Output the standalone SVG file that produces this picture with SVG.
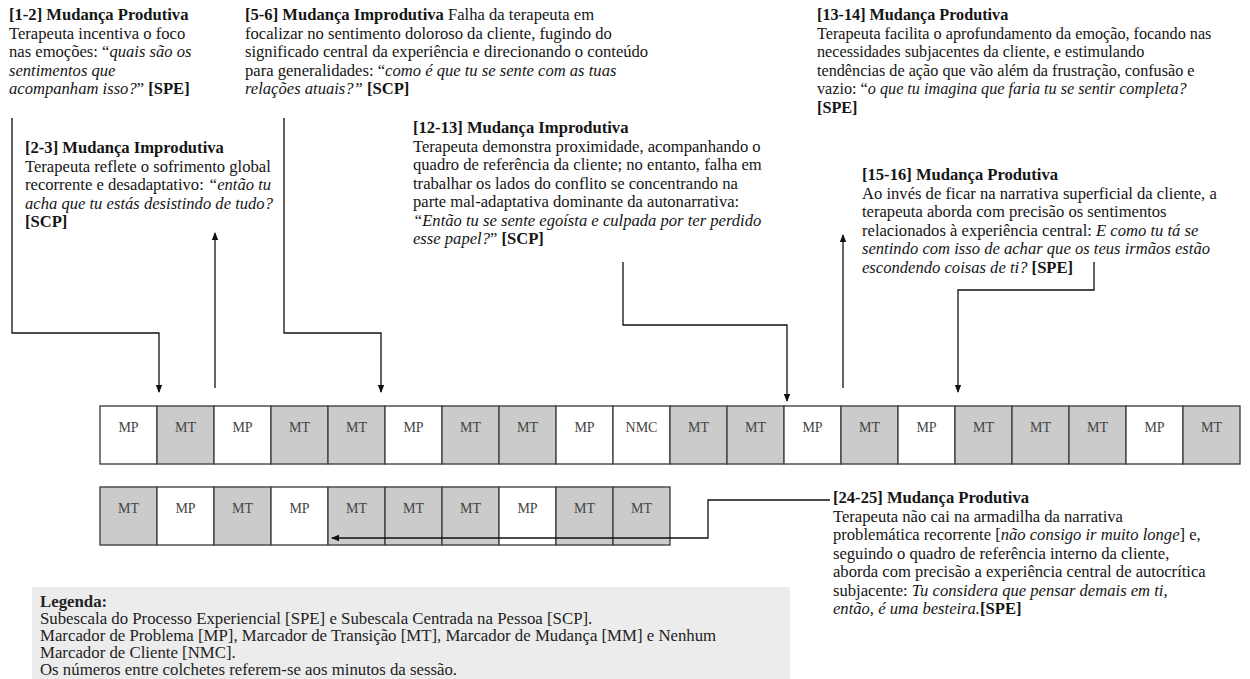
<svg xmlns="http://www.w3.org/2000/svg" width="1250" height="679" viewBox="0 0 1250 679">
<defs>
<marker id="ah" markerWidth="8" markerHeight="8" refX="7" refY="4" orient="auto" markerUnits="userSpaceOnUse">
<path d="M0,0.8 L8,4 L0,7.2 Z" fill="#111"/>
</marker>
<style>
text{font-family:"Liberation Serif","Times New Roman",serif;fill:#151515;}
.t{font-size:16.6px;}
.t2{font-size:16.2px;}
.b{font-weight:bold;}
.i{font-style:italic;}
.cell{stroke:#444;stroke-width:1.4;}
.w{fill:#fff;}
.g{fill:#cbcbcb;}
.cl{font-size:14px;fill:#444;text-anchor:middle;}
.con{fill:none;stroke:#111;stroke-width:1.3;}
.lg{font-size:16.8px;fill:#222;}
</style>
</defs>
<rect width="1250" height="679" fill="#fff"/>

<g id="note-1-2" class="t">
<text x="9" y="20"><tspan class="b">[1-2] Mudança Produtiva</tspan></text>
<text x="9" y="38.5">Terapeuta incentiva o foco</text>
<text x="9" y="57">nas emoções: “<tspan class="i">quais são os</tspan></text>
<text x="9" y="75.5"><tspan class="i">sentimentos que</tspan></text>
<text x="9" y="94"><tspan class="i">acompanham isso?</tspan>” <tspan class="b">[SPE]</tspan></text>
</g>

<g id="note-5-6" class="t">
<text x="245" y="20"><tspan class="b">[5-6] Mudança Improdutiva</tspan> Falha da terapeuta em</text>
<text x="245" y="38.5">focalizar no sentimento doloroso da cliente, fugindo do</text>
<text x="245" y="57">significado central da experiência e direcionando o conteúdo</text>
<text x="245" y="75.5">para generalidades: “<tspan class="i">como é que tu se sente com as tuas</tspan></text>
<text x="245" y="94"><tspan class="i">relações atuais?”</tspan> <tspan class="b">[SCP]</tspan></text>
</g>

<g id="note-13-14" class="t2">
<text x="817" y="20"><tspan class="b">[13-14] Mudança Produtiva</tspan></text>
<text x="817" y="38.5">Terapeuta facilita o aprofundamento da emoção, focando nas</text>
<text x="817" y="57">necessidades subjacentes da cliente, e estimulando</text>
<text x="817" y="75.5">tendências de ação que vão além da frustração, confusão e</text>
<text x="817" y="94">vazio: “<tspan class="i">o que tu imagina que faria tu se sentir completa?</tspan></text>
<text x="817" y="112.5"><tspan class="b">[SPE]</tspan></text>
</g>

<g id="note-2-3" class="t">
<text x="25" y="153"><tspan class="b">[2-3] Mudança Improdutiva</tspan></text>
<text x="25" y="171.5">Terapeuta reflete o sofrimento global</text>
<text x="25" y="190">recorrente e desadaptativo: <tspan class="i">“então tu</tspan></text>
<text x="25" y="208.5"><tspan class="i">acha que tu estás desistindo de tudo?</tspan></text>
<text x="25" y="227"><tspan class="b">[SCP]</tspan></text>
</g>

<g id="note-12-13" class="t">
<text x="413" y="133"><tspan class="b">[12-13] Mudança Improdutiva</tspan></text>
<text x="413" y="151.5">Terapeuta demonstra proximidade, acompanhando o</text>
<text x="413" y="170">quadro de referência da cliente; no entanto, falha em</text>
<text x="413" y="188.5">trabalhar os lados do conflito se concentrando na</text>
<text x="413" y="207">parte mal-adaptativa dominante da autonarrativa:</text>
<text x="413" y="225.5"><tspan class="i">“Então tu se sente egoísta e culpada por ter perdido</tspan></text>
<text x="413" y="244"><tspan class="i">esse papel?</tspan>” <tspan class="b">[SCP]</tspan></text>
</g>

<g id="note-15-16" class="t">
<text x="862" y="180"><tspan class="b">[15-16] Mudança Produtiva</tspan></text>
<text x="862" y="198.5">Ao invés de ficar na narrativa superficial da cliente, a</text>
<text x="862" y="217">terapeuta aborda com precisão os sentimentos</text>
<text x="862" y="235.5">relacionados à experiência central: <tspan class="i">E como tu tá se</tspan></text>
<text x="862" y="254"><tspan class="i">sentindo com isso de achar que os teus irmãos estão</tspan></text>
<text x="862" y="272.5"><tspan class="i">escondendo coisas de ti?</tspan> <tspan class="b">[SPE]</tspan></text>
</g>

<g id="note-24-25" class="t">
<text x="833" y="503"><tspan class="b">[24-25] Mudança Produtiva</tspan></text>
<text x="833" y="521.5">Terapeuta não cai na armadilha da narrativa</text>
<text x="833" y="540">problemática recorrente [<tspan class="i">não consigo ir muito longe</tspan>] e,</text>
<text x="833" y="558.5">seguindo o quadro de referência interno da cliente,</text>
<text x="833" y="577">aborda com precisão a experiência central de autocrítica</text>
<text x="833" y="595.5">subjacente:  <tspan class="i">Tu considera que pensar demais em ti,</tspan></text>
<text x="833" y="614"><tspan class="i">então, é uma besteira.</tspan><tspan class="b">[SPE]</tspan></text>
</g>

<g id="row-1">
<rect class="cell w" x="100" y="406" width="57" height="58"/>
<rect class="cell g" x="157" y="406" width="57" height="58"/>
<rect class="cell w" x="214" y="406" width="57" height="58"/>
<rect class="cell g" x="271" y="406" width="57" height="58"/>
<rect class="cell g" x="328" y="406" width="57" height="58"/>
<rect class="cell w" x="385" y="406" width="57" height="58"/>
<rect class="cell g" x="442" y="406" width="57" height="58"/>
<rect class="cell g" x="499" y="406" width="57" height="58"/>
<rect class="cell w" x="556" y="406" width="57" height="58"/>
<rect class="cell w" x="613" y="406" width="57" height="58"/>
<rect class="cell g" x="670" y="406" width="57" height="58"/>
<rect class="cell g" x="727" y="406" width="57" height="58"/>
<rect class="cell w" x="784" y="406" width="57" height="58"/>
<rect class="cell g" x="841" y="406" width="57" height="58"/>
<rect class="cell w" x="898" y="406" width="57" height="58"/>
<rect class="cell g" x="955" y="406" width="57" height="58"/>
<rect class="cell g" x="1012" y="406" width="57" height="58"/>
<rect class="cell g" x="1069" y="406" width="57" height="58"/>
<rect class="cell w" x="1126" y="406" width="57" height="58"/>
<rect class="cell g" x="1183" y="406" width="57" height="58"/>
<text class="cl" x="128.5" y="432">MP</text>
<text class="cl" x="185.5" y="432">MT</text>
<text class="cl" x="242.5" y="432">MP</text>
<text class="cl" x="299.5" y="432">MT</text>
<text class="cl" x="356.5" y="432">MT</text>
<text class="cl" x="413.5" y="432">MP</text>
<text class="cl" x="470.5" y="432">MT</text>
<text class="cl" x="527.5" y="432">MT</text>
<text class="cl" x="584.5" y="432">MP</text>
<text class="cl" x="641.5" y="432">NMC</text>
<text class="cl" x="698.5" y="432">MT</text>
<text class="cl" x="755.5" y="432">MT</text>
<text class="cl" x="812.5" y="432">MP</text>
<text class="cl" x="869.5" y="432">MT</text>
<text class="cl" x="926.5" y="432">MP</text>
<text class="cl" x="983.5" y="432">MT</text>
<text class="cl" x="1040.5" y="432">MT</text>
<text class="cl" x="1097.5" y="432">MT</text>
<text class="cl" x="1154.5" y="432">MP</text>
<text class="cl" x="1211.5" y="432">MT</text>
</g>

<g id="row-2">
<rect class="cell g" x="100" y="487" width="57" height="58"/>
<rect class="cell w" x="157" y="487" width="57" height="58"/>
<rect class="cell g" x="214" y="487" width="57" height="58"/>
<rect class="cell w" x="271" y="487" width="57" height="58"/>
<rect class="cell g" x="328" y="487" width="57" height="58"/>
<rect class="cell g" x="385" y="487" width="57" height="58"/>
<rect class="cell g" x="442" y="487" width="57" height="58"/>
<rect class="cell w" x="499" y="487" width="57" height="58"/>
<rect class="cell g" x="556" y="487" width="57" height="58"/>
<rect class="cell g" x="613" y="487" width="57" height="58"/>
<text class="cl" x="128.5" y="513">MT</text>
<text class="cl" x="185.5" y="513">MP</text>
<text class="cl" x="242.5" y="513">MT</text>
<text class="cl" x="299.5" y="513">MP</text>
<text class="cl" x="356.5" y="513">MT</text>
<text class="cl" x="413.5" y="513">MT</text>
<text class="cl" x="470.5" y="513">MT</text>
<text class="cl" x="527.5" y="513">MP</text>
<text class="cl" x="584.5" y="513">MT</text>
<text class="cl" x="641.5" y="513">MT</text>
</g>

<g id="legend">
<rect x="32" y="587" width="758" height="92" fill="#ececec"/>
<text class="lg b" x="40" y="607">Legenda:</text>
<text class="lg" x="40" y="624">Subescala do Processo Experiencial [SPE] e Subescala Centrada na Pessoa [SCP].</text>
<text class="lg" x="40" y="641">Marcador de Problema [MP], Marcador de Transição [MT], Marcador de Mudança [MM] e Nenhum</text>
<text class="lg" x="40" y="658">Marcador de Cliente [NMC].</text>
<text class="lg" x="40" y="675">Os números entre colchetes referem-se aos minutos da sessão.</text>
</g>

<g id="connectors">
<polyline class="con" points="12,118 12,333 159,333 159,392" marker-end="url(#ah)"/>
<polyline class="con" points="215,388 215,233" marker-end="url(#ah)"/>
<polyline class="con" points="284,118 284,333 381,333 381,392" marker-end="url(#ah)"/>
<polyline class="con" points="623,262 623,325 787,325 787,401" marker-end="url(#ah)"/>
<polyline class="con" points="843,388 843,235" marker-end="url(#ah)"/>
<polyline class="con" points="1094,262 1094,290 958,290 958,392" marker-end="url(#ah)"/>
<polyline class="con" points="830,500 708,500 708,538 332,538" marker-end="url(#ah)"/>
</g>
</svg>
